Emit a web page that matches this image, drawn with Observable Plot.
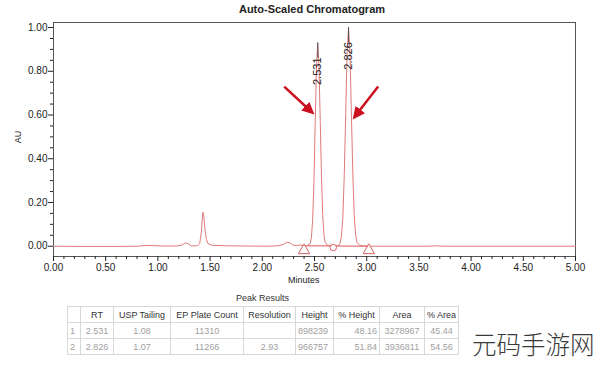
<!DOCTYPE html>
<html><head><meta charset="utf-8">
<script src="https://cdn.jsdelivr.net/npm/d3@7"></script>
<script src="https://cdn.jsdelivr.net/npm/@observablehq/plot@0.6"></script>
<style>
body{margin:0;background:#fff;font-family:"Liberation Sans",Arial,sans-serif;}
#wrap{position:relative;width:600px;height:366px;overflow:hidden;}
#chart{position:absolute;left:0;top:0;}
.title{position:absolute;left:0;width:624px;top:3px;text-align:center;font-weight:bold;font-size:11px;color:#222;}
.ylab{position:absolute;left:12px;top:132px;transform:rotate(-90deg);font-size:9px;color:#222;}
.xlab{position:absolute;left:288px;top:275px;font-size:9px;color:#222;}
.ptitle{position:absolute;left:67px;width:391px;top:293px;text-align:center;font-size:9px;color:#333;}
table{position:absolute;left:67px;top:306px;border-collapse:collapse;font-size:9px;table-layout:fixed;}
td,th{border:1px solid #d8d8d8;padding:0 2px;height:15px;white-space:nowrap;overflow:hidden;}
th{font-weight:normal;color:#333;text-align:center;}
td{color:#a0a0a0;text-align:center;}
.wm{position:absolute;left:472px;top:329px;font-size:24.5px;line-height:30px;white-space:nowrap;color:#3a3a3a;font-family:"Noto Sans CJK SC",sans-serif;font-weight:300;}
</style></head>
<body><div id="wrap"></div>
<script>
// ---- data ----
const titleText = "Auto-Scaled Chromatogram";
const yLabel = "AU";
const xLabel = "Minutes";
const time = [0.00,0.30,0.60,0.80,0.87,0.95,1.05,1.18,1.23,1.265,1.29,1.32,1.38,1.40,1.415,1.425,1.432,1.44,1.45,1.465,1.48,1.52,1.65,1.85,2.05,2.15,2.20,2.24,2.27,2.30,2.33,2.36,2.39,2.43,2.459,2.471,2.483,2.495,2.507,2.519,2.531,2.543,2.555,2.567,2.579,2.591,2.603,2.62,2.66,2.70,2.733,2.745,2.758,2.772,2.785,2.799,2.812,2.826,2.840,2.853,2.867,2.880,2.894,2.907,2.93,2.98,3.10,3.60,3.66,3.72,5.00];
const au = [0.000,-0.001,-0.001,0.000,0.003,0.003,0.001,0.001,0.005,0.016,0.011,0.002,0.002,0.012,0.06,0.125,0.155,0.135,0.08,0.03,0.012,0.004,0.002,0.001,0.000,0.002,0.008,0.019,0.013,0.004,0.003,0.006,0.003,0.003,0.012,0.042,0.128,0.30,0.565,0.82,0.93,0.82,0.575,0.315,0.14,0.05,0.017,0.006,0.002,0.002,0.004,0.013,0.045,0.135,0.325,0.607,0.882,1.00,0.882,0.615,0.335,0.145,0.052,0.017,0.005,0.001,0.000,0.000,0.002,0.000,0.000];
const peakRT = [2.531, 2.826];
const peakTop = [0.93, 1.00];
const limitT = [2.40, 3.02];        // integration start/end (triangles)
const valleyT = [2.68];             // valley drop (circle)
const arrowFromT = [2.21, 3.11], arrowFromV = [0.73, 0.73];
const arrowToT = [2.47, 2.89], arrowToV = [0.615, 0.595];
const xMajor = [0,0.5,1,1.5,2,2.5,3,3.5,4,4.5,5];
const xMinor = [0.1,0.2,0.3,0.4,0.6,0.7,0.8,0.9,1.1,1.2,1.3,1.4,1.6,1.7,1.8,1.9,2.1,2.2,2.3,2.4,2.6,2.7,2.8,2.9,3.1,3.2,3.3,3.4,3.6,3.7,3.8,3.9,4.1,4.2,4.3,4.4,4.6,4.7,4.8,4.9];
const yMajor = [0,0.2,0.4,0.6,0.8,1.0];
const yMinor = [0.05,0.1,0.15,0.25,0.3,0.35,0.45,0.5,0.55,0.65,0.7,0.75,0.85,0.9,0.95];
const tableTitle = "Peak Results";
const headers = ["", "RT", "USP Tailing", "EP Plate Count", "Resolution", "Height", "% Height", "Area", "% Area"];
const idx = ["1","2"];
const rtCol = ["2.531","2.826"];
const uspCol = ["1.08","1.07"];
const epCol = ["11310","11266"];
const resCol = ["","2.93"];
const heightCol = ["898239","966757"];
const pctHeightCol = ["48.16","51.84"];
const areaCol = ["3278967","3936811"];
const pctAreaCol = ["45.44","54.56"];
const watermark = "元码手游网";

// ---- build ----
const trace = time.map((t,i)=>({t, v: au[i]}));
const peaks = peakRT.map((rt,i)=>({rt, top: peakTop[i]}));
const arrows = arrowFromT.map((t,i)=>({x1:t,y1:arrowFromV[i],x2:arrowToT[i],y2:arrowToV[i]}));
const base = [{t:limitT[0],v:0.002},{t:limitT[1],v:0.0}];
const red = "#e07a7a";
const chart = Plot.plot({
  width: 600, height: 290,
  marginTop: 22, marginLeft: 53, marginRight: 25, marginBottom: 34,
  style: {fontFamily: "Liberation Sans, Arial, sans-serif", fontSize: "10px", color: "#222"},
  x: {domain: [0,5]},
  y: {domain: [-0.047, 1.023]},
  marks: [
    Plot.frame({stroke: "#555"}),
    Plot.axisX(xMajor, {tickSize: 5, tickFormat: d=>d.toFixed(2), tickPadding: 2, label: null, fontSize: 10}),
    Plot.axisX(xMinor, {tickSize: 3, tickFormat: ()=>"", label: null}),
    Plot.axisY(yMajor, {tickSize: 5, tickFormat: d=>d.toFixed(2), tickPadding: 1, label: null, fontSize: 10}),
    Plot.axisY(yMinor, {tickSize: 3, tickFormat: ()=>"", label: null}),
    Plot.line(base, {x:"t", y:"v", stroke: "#d85a5a", strokeWidth: 1.1}),
    Plot.line(trace, {x:"t", y:"v", stroke: red, strokeWidth: 1}),
    Plot.dot(limitT, {x: d=>d, y: -0.019, symbol: "triangle", r: 4.2, stroke: "#d86060", fill: "white", strokeWidth: 1}),
    Plot.dot(valleyT, {x: d=>d, y: -0.006, symbol: "circle", r: 3.2, stroke: "#d86060", fill: "white", strokeWidth: 1}),
    Plot.ruleX(peaks, {x: "rt", y1: d=>d.top-0.07, y2: "top", stroke: "#555", strokeWidth: 1}),
    Plot.text(peaks, {x: "rt", y: d=>d.top-0.13, text: d=>d.rt.toFixed(3), rotate: -90, fontSize: 11, fill: "#222"}),
    Plot.link(arrows, {x1:"x1", y1:"y1", x2:"x2", y2:"y2", stroke: "#cc1020", strokeWidth: 2.5, markerEnd: "arrow"})
  ]
});
chart.id = "chart";
chart.querySelectorAll("marker").forEach(m=>{
  m.setAttribute("fill", "#cc1020");
  m.setAttribute("stroke", "none");
  const p = m.querySelector("path");
  if (p) p.setAttribute("d", "M-5,-3.6L2.5,0L-5,3.6Z");
});
const wrap = document.getElementById("wrap");
wrap.appendChild(chart);
function div(cls, txt){const d=document.createElement("div");d.className=cls;d.textContent=txt;wrap.appendChild(d);return d;}
div("title", titleText);
div("ylab", yLabel);
div("xlab", xLabel);
div("ptitle", tableTitle);
const widths = [13,33,57,73,52,38,46,45,34];
const aligns = ["left","center","center","center","center","left","right","center","center"];
const tbl = document.createElement("table");
const cg = document.createElement("colgroup");
widths.forEach(w=>{const c=document.createElement("col");c.style.width=w+"px";cg.appendChild(c);});
tbl.appendChild(cg);
const hr = document.createElement("tr");
headers.forEach(h=>{const th=document.createElement("th");th.textContent=h;hr.appendChild(th);});
tbl.appendChild(hr);
idx.forEach((n,i)=>{
  const tr=document.createElement("tr");
  [n, rtCol[i], uspCol[i], epCol[i], resCol[i], heightCol[i], pctHeightCol[i], areaCol[i], pctAreaCol[i]].forEach((v,j)=>{
    const td=document.createElement("td");td.textContent=v;td.style.textAlign=aligns[j];
    tr.appendChild(td);
  });
  tbl.appendChild(tr);
});
wrap.appendChild(tbl);
div("wm", watermark);
</script>
</body></html>
